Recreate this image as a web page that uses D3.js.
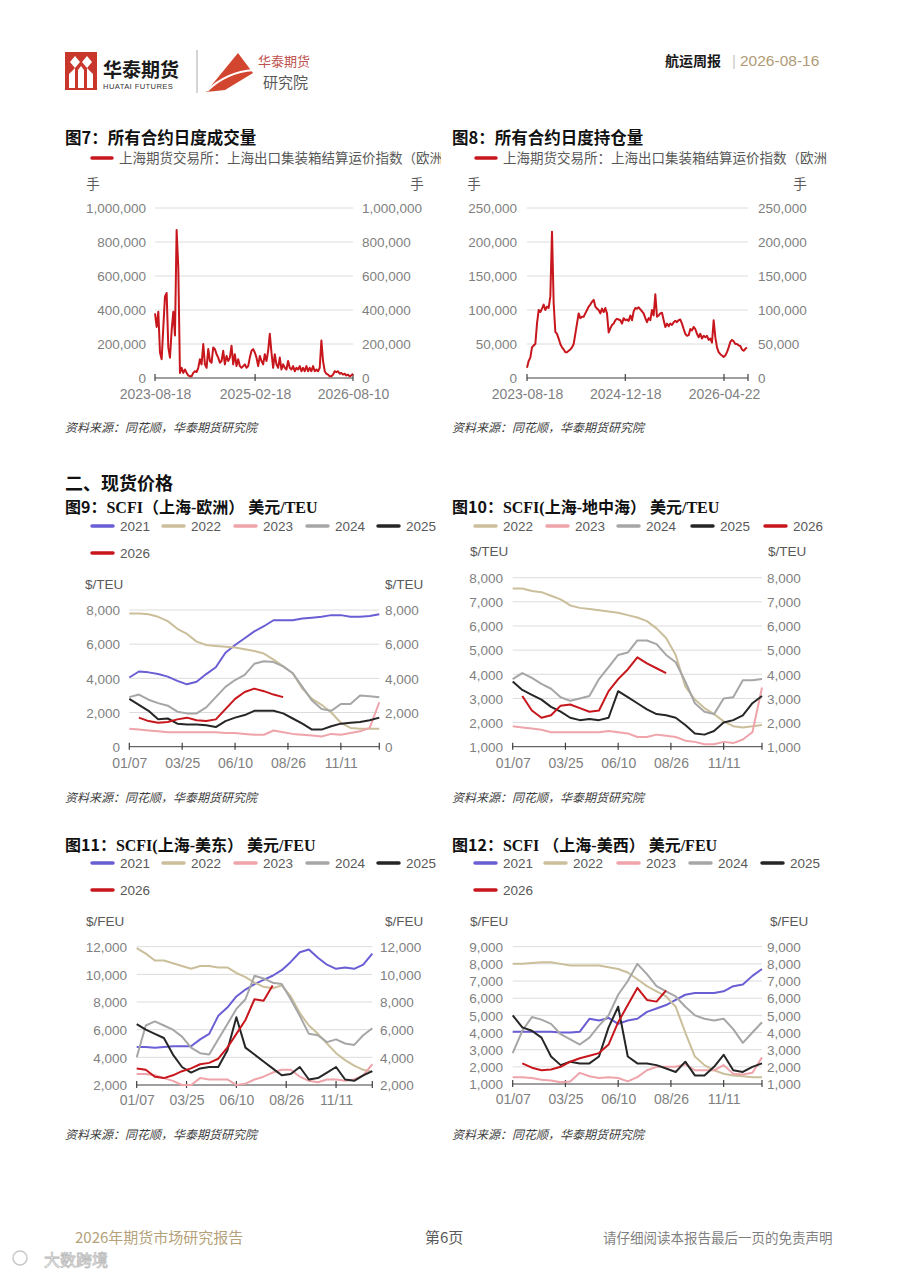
<!DOCTYPE html>
<html lang="zh"><head><meta charset="utf-8">
<script src="https://cdn.jsdelivr.net/npm/d3@7/dist/d3.min.js"></script>
<style>html,body{margin:0;padding:0;background:#fff;}svg{display:block;}</style>
</head><body>
<script>
// ================= DATA =================
// legend text as visible in the (cropped) source figure
const futLegend = "上海期货交易所：上海出口集装箱结算运价指数（欧洲";
const volStart = "2023-08-18", volEnd = "2026-08-10";
const volTicks = ["2023-08-18","2025-02-18","2026-08-10"];
const volValues = [
380000,300000,390000,150000,110000,300000,480000,500000,180000,120000,
280000,390000,250000,870000,650000,30000,60000,30000,50000,30000,
15000,10000,10000,30000,40000,35000,60000,110000,80000,200000,
80000,60000,170000,100000,90000,180000,170000,140000,120000,90000,
100000,160000,80000,130000,100000,120000,190000,80000,140000,70000,
110000,70000,60000,70000,80000,60000,70000,120000,160000,170000,
150000,120000,70000,130000,100000,80000,140000,100000,160000,260000,
150000,60000,140000,80000,60000,120000,50000,80000,60000,50000,
100000,60000,50000,70000,40000,60000,50000,70000,40000,60000,
40000,70000,40000,60000,40000,70000,40000,50000,40000,60000,
220000,100000,40000,25000,20000,10000,10000,20000,40000,35000,
40000,25000,30000,20000,25000,15000,20000,10000,15000,25000];
const volYTicks = [0,200000,400000,600000,800000,1000000];

const oiStart = "2023-08-18", oiEnd = "2026-08-14", oiAxisEnd = "2026-08-19";
const oiTicks = ["2023-08-18","2024-12-18","2026-04-22"];
const oiValues = [
15000,25000,30000,45000,48000,50000,80000,100000,97000,102000,
108000,100000,105000,103000,120000,215000,110000,68000,65000,58000,
50000,45000,42000,38000,38000,40000,42000,45000,50000,65000,
80000,95000,88000,90000,90000,95000,100000,105000,108000,112000,
115000,105000,102000,100000,95000,102000,97000,103000,95000,67000,
73000,78000,80000,85000,87000,86000,85000,80000,88000,85000,
86000,84000,92000,85000,98000,103000,102000,104000,101000,98000,
95000,88000,82000,88000,85000,100000,92000,123000,90000,92000,
95000,96000,85000,75000,80000,76000,80000,78000,82000,84000,
82000,85000,86000,80000,72000,65000,62000,63000,72000,70000,
75000,72000,65000,60000,65000,58000,62000,60000,62000,56000,
58000,52000,85000,60000,45000,38000,35000,33000,31000,33000,
38000,45000,53000,56000,54000,50000,50000,48000,47000,42000,
40000,43000,45000];
const oiYTicks = [0,50000,100000,150000,200000,250000];

// weekly (sampled every second week) SCFI data
const weekIdx = [0,2,4,6,8,10,12,14,16,18,20,22,24,26,28,30,32,34,36,38,40,42,44,46,48,50,52];
const weekTickIdx = [0,11,22,33,44];
const weekLabels = ["01/07","03/25","06/10","08/26","11/11"];
const weekEnd = 52;

// 图9 SCFI 上海-欧洲 (USD/TEU)
const eu2021 = [4050,4400,4350,4250,4100,3850,3650,3800,4250,4650,5500,5950,6350,6750,7050,7400,7400,7400,7500,7550,7600,7700,7700,7600,7600,7650,7750];
const eu2022 = [7800,7800,7750,7600,7350,6900,6600,6150,5950,5900,5850,5800,5700,5600,5450,5100,4700,4300,3400,2800,2450,2000,1400,1100,1050,1050,1050];
const eu2023 = [1050,1000,950,900,850,850,850,850,850,850,800,800,750,700,700,950,850,750,700,650,600,750,700,800,900,1100,2600];
const eu2024 = [2900,3050,2750,2550,2400,2050,1950,1950,2300,2900,3500,3900,4200,4850,5000,4950,4700,4300,3500,2700,2200,2100,2500,2500,3000,2950,2900];
const eu2025 = [2800,2450,2100,1600,1650,1350,1300,1300,1250,1150,1500,1700,1850,2100,2100,2100,1950,1650,1350,1000,1000,1200,1350,1400,1450,1550,1700];
const eu2026 = [null,1700,1500,1400,1450,1600,1700,1550,1500,1600,2200,2800,3200,3400,3250,3050,2900];
const euYTicks = [0,2000,4000,6000,8000];

// 图10 SCFI 上海-地中海 (USD/TEU)
const med2022 = [7550,7550,7450,7400,7250,7100,6850,6750,6700,6650,6600,6550,6450,6350,6200,5900,5500,4800,3500,2950,2600,2350,2050,1850,1800,1850,1900];
const med2023 = [1850,1800,1750,1700,1600,1600,1600,1600,1600,1600,1650,1600,1550,1400,1400,1500,1450,1400,1250,1200,1100,1100,1200,1150,1300,1600,3450];
const med2024 = [3800,4050,3850,3600,3400,3050,2900,3000,3100,3800,4300,4800,4900,5400,5400,5250,4800,4500,3700,2800,2450,2350,3000,3050,3750,3750,3800];
const med2025 = [3700,3350,3150,2950,2650,2450,2200,2100,2150,2100,2200,3300,3050,2800,2550,2350,2300,2200,1900,1550,1500,1650,2000,2100,2300,2800,3100];
const med2026 = [null,3100,2500,2200,2300,2700,2750,2600,2450,2500,3300,3800,4200,4700,4450,4250,4050];
const medYTicks = [1000,2000,3000,4000,5000,6000,7000,8000];

// 图11 SCFI 上海-美东 (USD/FEU)
const use2021 = [4750,4750,4700,4750,4800,4800,4800,5300,5700,7000,7600,8400,8900,9300,9600,9900,10300,10900,11600,11800,11200,10700,10400,10500,10400,10700,11500];
const use2022 = [11900,11500,11000,11000,10800,10600,10400,10600,10600,10500,10500,10100,9800,9400,9100,9000,9200,8400,7200,6300,5700,5000,4300,3800,3400,3100,2950];
const use2023 = [2800,2800,2700,2500,2300,2000,2000,2500,2400,2400,2400,2000,2100,2400,2600,2900,3100,3100,2600,2300,2200,2400,2400,2300,2400,2700,3500];
const use2024 = [4000,6300,6600,6300,6000,5500,4700,4300,4200,5300,6400,7500,8200,9900,9700,9400,9300,8200,7000,5700,5600,5100,5300,5000,4900,5600,6100];
const use2025 = [6400,6000,5700,5400,4200,3300,2900,3200,3300,3300,4500,6900,4700,4200,3700,3200,2700,2800,3300,2400,2500,2900,3300,2400,2300,2700,3000];
const use2026 = [3200,3100,2600,2500,2700,3000,3200,3500,3600,3900,4700,5700,6700,8200,8100,9200];
const useYTicks = [2000,4000,6000,8000,10000,12000];

// 图12 SCFI 上海-美西 (USD/FEU)
const usw2021 = [4050,4050,4050,4050,4050,4000,4000,4050,4800,4700,4850,4500,4700,4800,5200,5400,5600,5900,6200,6300,6300,6300,6400,6700,6800,7300,7700];
const usw2022 = [8000,8000,8050,8100,8100,8000,7900,7900,7900,7900,7800,7700,7500,7100,6700,6400,6100,5500,4000,2600,2100,1800,1600,1500,1450,1400,1400];
const usw2023 = [1400,1400,1350,1250,1200,1100,1150,1650,1450,1350,1400,1350,1150,1400,1800,2000,2000,2000,2150,1800,1800,1800,2100,1600,1550,1650,2550];
const usw2024 = [2800,4100,4900,4750,4500,3900,3600,3300,3700,4400,5000,6200,7000,8000,7400,6700,6400,6100,5500,5000,4800,4700,4800,4200,3400,4000,4600];
const usw2025 = [5000,4300,4100,3700,2600,2100,2300,2200,2200,2600,4300,5500,2600,2200,2200,2100,1900,1700,2300,1500,1500,2000,2700,1800,1700,2000,2200];
const usw2026 = [null,2200,1950,1800,1850,2000,2300,2500,2650,2800,3300,4600,5600,6600,5900,5800,6450];
const uswYTicks = [1000,2000,3000,4000,5000,6000,7000,8000,9000];

// ================= DRAWING =================
const SANS = '"Liberation Sans","Noto Sans CJK SC",sans-serif';
const CJK = '"Noto Sans CJK SC",sans-serif';
const SERIF = '"Liberation Serif","Noto Sans CJK SC",serif';
const COLORS = {"2021":"#6a5ed4","2022":"#cbbf9b","2023":"#eea4aa","2024":"#a6a6a6","2025":"#262626","2026":"#c8161d"};
const RED = "#c8161d";
const parse = d3.timeParse("%Y-%m-%d");

const svg = d3.select("body").append("svg").attr("width",900).attr("height",1272)
  .style("font-family",SANS);
const defs = svg.append("defs");

function txt(x,y,s,o={}){
  return svg.append("text").attr("x",x).attr("y",y).text(s)
    .attr("font-size",o.size||13).attr("fill",o.fill||"#000")
    .attr("font-family",o.font||CJK).attr("font-weight",o.weight||"normal")
    .attr("text-anchor",o.anchor||"start").attr("font-style",o.style||"normal");
}

// ---- header ----
(function header(){
  const g = svg.append("g");
  g.append("rect").attr("x",65).attr("y",52).attr("width",32).attr("height",38).attr("fill","#c9372c");
  g.append("path").attr("fill","#fff").attr("d","M70,62 L75,56 L80,62 L75,68 Z M82,62 L87,56 L92,62 L87,68 Z");
  g.append("path").attr("fill","#fff").attr("d","M69,88 L69,74 L75,68 L75,88 Z M78,88 L78,70 L81,66 L84,70 L84,88 Z M87,88 L87,68 L93,74 L93,88 Z");
  g.append("text").attr("x",103).attr("y",77).text("华泰期货").attr("font-family",CJK).attr("font-weight","bold").attr("font-size",19).attr("fill","#1a1a1a");
  g.append("text").attr("x",103).attr("y",89).text("HUATAI FUTURES").attr("font-family",SANS).attr("font-size",7.6).attr("letter-spacing",0.4).attr("fill","#333");
  g.append("line").attr("x1",197).attr("x2",197).attr("y1",50).attr("y2",93).attr("stroke","#aaa");
  g.append("path").attr("fill","#d2462f").attr("d","M238,53 L253,73 L225,90 L206,92 Z");
  g.append("path").attr("fill","none").attr("stroke","#fff").attr("stroke-width",2.2).attr("d","M207,91 Q226,72 254,70");
  g.append("text").attr("x",258).attr("y",66).text("华泰期货").attr("font-family",CJK).attr("font-size",13).attr("fill","#c0504d");
  g.append("text").attr("x",263).attr("y",88).text("研究院").attr("font-family",CJK).attr("font-size",15).attr("fill","#595959");
  g.append("text").attr("x",665).attr("y",66).text("航运周报").attr("font-family",CJK).attr("font-weight","bold").attr("font-size",14).attr("fill","#1a1a1a");
  g.append("text").attr("x",732).attr("y",66).text("|").attr("font-family",SANS).attr("font-size",15).attr("fill","#c8c8c8");
  g.append("text").attr("x",740).attr("y",66).text("2026-08-16").attr("font-family",SANS).attr("font-size",15.5).attr("fill","#b09b76");
})();

// ---- generic frame ----
function frame(o, y){
  const g = svg.append("g");
  const ticks = o.yTicks;
  g.selectAll(null).data(ticks.filter(v=>v!==o.yDomain[0])).join("line")
    .attr("x1",o.x0).attr("x2",o.x1).attr("y1",d=>y(d)).attr("y2",d=>y(d))
    .attr("stroke","#dcdcdc").attr("stroke-width",1);
  const fmt = d3.format(",");
  const styleText = s => s.selectAll("text").attr("fill","#7f7f7f").attr("font-size",13.5).attr("font-family",SANS).attr("dy","0.35em");
  g.append("g").attr("transform",`translate(${o.leftX},0)`)
    .call(d3.axisLeft(y).tickValues(ticks).tickSize(0).tickPadding(0).tickFormat(fmt))
    .call(s=>s.select(".domain").remove()).call(styleText);
  g.append("g").attr("transform",`translate(${o.rightX},0)`)
    .call(d3.axisRight(y).tickValues(ticks).tickSize(0).tickPadding(0).tickFormat(fmt))
    .call(s=>s.select(".domain").remove()).call(styleText);
  g.append("text").attr("x",o.unitL).attr("y",o.unitY).text(o.unit).attr("font-size",13.5)
    .attr("fill","#595959").attr("font-family",SANS).attr("text-anchor",o.unitAnchor||"start");
  g.append("text").attr("x",o.unitR).attr("y",o.unitY).text(o.unit).attr("font-size",13.5)
    .attr("fill","#595959").attr("font-family",SANS).attr("text-anchor",o.unitAnchor||"start");
  return g;
}
function xAxis(g,o,x,tickVals,fmt,extraTicks){
  g.append("line").attr("x1",o.x0).attr("x2",o.x1).attr("y1",o.yBot).attr("y2",o.yBot)
    .attr("stroke","#404040").attr("stroke-width",1);
  const ax = g.append("g").attr("transform",`translate(0,${o.yBot})`)
    .call(d3.axisBottom(x).tickValues(tickVals).tickFormat(fmt).tickSizeInner(0).tickSizeOuter(0));
  ax.select(".domain").remove();
  ax.selectAll("line").remove();
  ax.selectAll("text").attr("y",o.xLabelOff).attr("dy",null).attr("fill","#7f7f7f")
    .attr("font-size",14).attr("font-family",SANS);
  g.selectAll(null).data(tickVals.concat(extraTicks||[])).join("line")
    .attr("x1",d=>x(d)).attr("x2",d=>x(d)).attr("y1",o.yBot-4).attr("y2",o.yBot+3)
    .attr("stroke","#404040").attr("stroke-width",1.2);
}
function source(x,y){
  txt(x,y,"资料来源：同花顺，华泰期货研究院",{size:12,fill:"#404040",style:"italic"});
}
function title(x,y,parts,size){
  const t = svg.append("text").attr("x",x).attr("y",y).attr("font-size",size).attr("font-weight","bold").attr("fill","#111");
  parts.forEach(p=>t.append("tspan").attr("font-family",p[1]).text(p[0]));
}

// ---- time-series charts (图7, 图8) ----
function timeChart(o){
  title(o.tx,o.ty,[[o.title,CJK]],16.5);
  const cid = "clip"+o.id;
  defs.append("clipPath").attr("id",cid).append("rect").attr("x",o.tx-10).attr("y",148).attr("width",o.clipR-(o.tx-10)).attr("height",22);
  const lg = svg.append("g").attr("clip-path",`url(#${cid})`);
  lg.append("line").attr("x1",o.legX).attr("x2",o.legX+20).attr("y1",158).attr("y2",158)
    .attr("stroke",RED).attr("stroke-width",3.5).attr("stroke-linecap","round");
  lg.append("text").attr("x",o.legX+27).attr("y",163).text(o.legend).attr("font-size",13.5)
    .attr("font-family",CJK).attr("fill","#595959");
  const y = d3.scaleLinear().domain(o.yDomain).range([o.yBot,o.yTop]);
  const x = d3.scaleTime().domain([parse(o.axStart),parse(o.axEnd)]).range([o.x0,o.x1]);
  const g = frame(o,y);
  xAxis(g,o,x,o.ticks.map(parse),d3.timeFormat("%Y-%m-%d"),o.extraTicks);
  const s = +parse(o.dStart), e = +parse(o.dEnd), n = o.values.length;
  const pts = o.values.map((v,i)=>({d:new Date(s+(e-s)*i/(n-1)),v}));
  svg.append("path").datum(pts).attr("fill","none").attr("stroke",RED).attr("stroke-width",2)
    .attr("stroke-linejoin","round")
    .attr("d",d3.line().x(p=>x(p.d)).y(p=>y(p.v)));
  source(o.tx,432);
}

timeChart({id:7,title:"图7：所有合约日度成交量",tx:65,ty:144,clipR:441,legX:92,
  legend:futLegend,
  x0:155,x1:353,yTop:208,yBot:378,yDomain:[0,1000000],yTicks:volYTicks,
  leftX:146,rightX:362,unit:"手",unitL:93,unitR:417,unitY:189,unitAnchor:"middle",xLabelOff:21,
  axStart:volStart,axEnd:volEnd,ticks:volTicks,dStart:volStart,dEnd:volEnd,values:volValues});
timeChart({id:8,title:"图8：所有合约日度持仓量",tx:452,ty:144,clipR:836,legX:476,
  legend:futLegend,
  x0:527,x1:748,yTop:208,yBot:378,yDomain:[0,250000],yTicks:oiYTicks,
  leftX:517,rightX:758,unit:"手",unitL:474,unitR:800,unitY:189,unitAnchor:"middle",xLabelOff:21,
  axStart:oiStart,axEnd:oiAxisEnd,ticks:oiTicks,extraTicks:[parse(oiAxisEnd)],dStart:oiStart,dEnd:oiEnd,values:oiValues});

// section heading
txt(65,490,"二、现货价格",{size:18,weight:"bold",fill:"#111"});

// ---- seasonal charts ----
function seasonChart(o){
  title(o.tx,o.ty,o.titleParts,16);
  o.legend.forEach(l=>{
    svg.append("line").attr("x1",l.x).attr("x2",l.x+21).attr("y1",l.y).attr("y2",l.y)
      .attr("stroke",COLORS[l.name]).attr("stroke-width",3.5).attr("stroke-linecap","round");
    svg.append("text").attr("x",l.x+28).attr("y",l.y+5).text(l.name).attr("font-size",13.5)
      .attr("font-family",SANS).attr("fill","#595959");
  });
  const y = d3.scaleLinear().domain(o.yDomain).range([o.yBot,o.yTop]);
  const x = d3.scaleLinear().domain([0,weekEnd]).range([o.x0,o.x1]);
  const g = frame(o,y);
  xAxis(g,o,x,weekTickIdx,(d,i)=>weekLabels[i],[weekEnd]);
  const line = d3.line().defined(p=>p.v!=null).x(p=>x(p.w)).y(p=>y(p.v)).curve(d3.curveLinear);
  o.series.forEach(s=>{
    const pts = s.values.map((v,i)=>({w:weekIdx[i],v}));
    svg.append("path").datum(pts).attr("fill","none").attr("stroke",COLORS[s.name])
      .attr("stroke-width",2).attr("stroke-linejoin","round").attr("d",line);
  });
  source(o.tx,o.srcY);
}
const leftLegend = (r1,r2)=>[
  {name:"2021",x:92,y:r1},{name:"2022",x:163,y:r1},{name:"2023",x:235,y:r1},
  {name:"2024",x:307,y:r1},{name:"2025",x:378,y:r1},{name:"2026",x:92,y:r2}];

seasonChart({tx:65,ty:513,titleParts:[["图9：",CJK],["SCFI（上海-欧洲） 美元/TEU",SERIF]],
  legend:leftLegend(526,553),
  x0:129.3,x1:379.3,yTop:610,yBot:746.7,yDomain:[0,8000],yTicks:euYTicks,
  leftX:120,rightX:385,unit:"$/TEU",unitL:85,unitR:385,unitY:589,xLabelOff:21,srcY:802,
  series:[{name:"2021",values:eu2021},{name:"2022",values:eu2022},{name:"2023",values:eu2023},
          {name:"2024",values:eu2024},{name:"2025",values:eu2025},{name:"2026",values:eu2026}]});

seasonChart({tx:452,ty:513,titleParts:[["图10：",CJK],["SCFI(上海-地中海） 美元/TEU",SERIF]],
  legend:[{name:"2022",x:475,y:526},{name:"2023",x:547,y:526},{name:"2024",x:618,y:526},
          {name:"2025",x:692,y:526},{name:"2026",x:765,y:526}],
  x0:512.7,x1:762,yTop:577.7,yBot:746.7,yDomain:[1000,8000],yTicks:medYTicks,
  leftX:503,rightX:767,unit:"$/TEU",unitL:470,unitR:768,unitY:556,xLabelOff:21,srcY:802,
  series:[{name:"2022",values:med2022},{name:"2023",values:med2023},
          {name:"2024",values:med2024},{name:"2025",values:med2025},{name:"2026",values:med2026}]});

seasonChart({tx:65,ty:851,titleParts:[["图11：",CJK],["SCFI(上海-美东） 美元/FEU",SERIF]],
  legend:leftLegend(863,890),
  x0:136.7,x1:372.3,yTop:946.7,yBot:1085,yDomain:[2000,12000],yTicks:useYTicks,
  leftX:127,rightX:380,unit:"$/FEU",unitL:86,unitR:385,unitY:926,xLabelOff:20,srcY:1139,
  series:[{name:"2021",values:use2021},{name:"2022",values:use2022},{name:"2023",values:use2023},
          {name:"2024",values:use2024},{name:"2025",values:use2025},{name:"2026",values:use2026}]});

seasonChart({tx:452,ty:851,titleParts:[["图12：",CJK],["SCFI （上海-美西） 美元/FEU",SERIF]],
  legend:[{name:"2021",x:475,y:863},{name:"2022",x:545,y:863},{name:"2023",x:618,y:863},
          {name:"2024",x:690,y:863},{name:"2025",x:762,y:863},{name:"2026",x:475,y:890}],
  x0:512.7,x1:762,yTop:946.7,yBot:1084,yDomain:[1000,9000],yTicks:uswYTicks,
  leftX:503,rightX:767,unit:"$/FEU",unitL:470,unitR:770,unitY:926,xLabelOff:20,srcY:1139,
  series:[{name:"2021",values:usw2021},{name:"2022",values:usw2022},{name:"2023",values:usw2023},
          {name:"2024",values:usw2024},{name:"2025",values:usw2025},{name:"2026",values:usw2026}]});

// ---- footer ----
txt(75,1243,"2026年期货市场研究报告",{size:15,fill:"#b5a27a"});
txt(425,1243,"第6页",{size:15,fill:"#595959"});
txt(603,1243,"请仔细阅读本报告最后一页的免责声明",{size:13.5,fill:"#7f7f7f"});
// watermark
svg.append("circle").attr("cx",20).attr("cy",1258).attr("r",7).attr("fill","none").attr("stroke","#c8c8c8").attr("stroke-width",1.5);
svg.append("text").attr("x",44).attr("y",1266).text("大数跨境").attr("font-family",CJK).attr("font-size",16)
  .attr("fill","#ffffff").attr("stroke","#bdbdbd").attr("stroke-width",0.8);
</script>
</body></html>
